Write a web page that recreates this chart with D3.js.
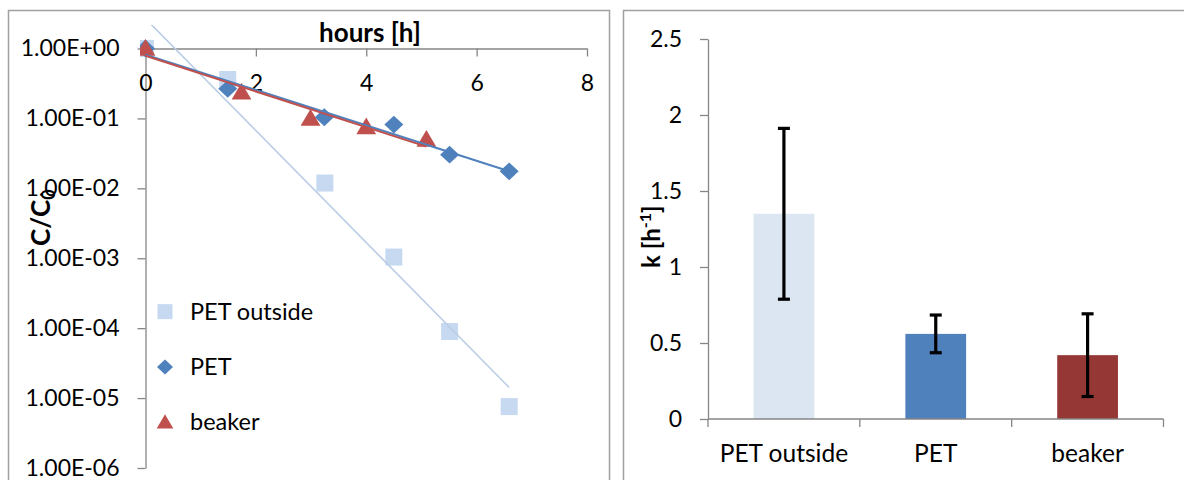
<!DOCTYPE html>
<html><head><meta charset="utf-8">
<script src="https://cdn.jsdelivr.net/npm/d3@7"></script>
<style>
body{margin:0;background:#fff}
svg{display:block;font-family:Lato,"Open Sans",sans-serif}
</style>
</head><body>
<svg id="c" width="1184" height="480"></svg>
<script>
// Decay of C/C0 over time (hours), three setups
const petOutsideHours = [0, 1.49, 3.25, 4.5, 5.51, 6.59];
const petOutsideConc  = [1.0, 0.36, 0.0119, 0.00104, 8.95e-5, 7.55e-6];
const petHours        = [0, 1.49, 3.24, 4.5, 5.51, 6.59];
const petConc         = [1.0, 0.265, 0.104, 0.0816, 0.0303, 0.0175];
const beakerHours     = [0, 1.74, 2.99, 4.0, 5.09];
const beakerConc      = [1.0, 0.237, 0.10, 0.0756, 0.0498];
const hourTicks = [0, 2, 4, 6, 8];
const concTicks = [1, 1e-1, 1e-2, 1e-3, 1e-4, 1e-5, 1e-6];

// Rate constants k with error bars
const categories = ["PET outside", "PET", "beaker"];
const kValues = [1.35, 0.56, 0.42];
const kErrors = [0.562, 0.124, 0.272];
const kTicks = [0, 0.5, 1, 1.5, 2, 2.5];

const svg = d3.select("#c");
const AXIS = "#868686";
const FRAME = "#a0a0a0";

// chart frames
svg.append("rect").attr("x", 8.5).attr("y", 10.5).attr("width", 601).attr("height", 480)
  .attr("fill", "#fff").attr("stroke", FRAME).attr("stroke-width", 1.5);
svg.append("rect").attr("x", 623.5).attr("y", 10.5).attr("width", 600).attr("height", 480)
  .attr("fill", "#fff").attr("stroke", FRAME).attr("stroke-width", 1.5);

/* ---------- left: semi-log scatter ---------- */
const x = d3.scaleLinear().domain([0, 8]).range([145.5, 587]);
const y = d3.scaleLog().domain([1e-6, 1]).range([468, 48.5]);

const fmtE = d => {
  const e = Math.round(Math.log10(d));
  const m = d / Math.pow(10, e);
  return m.toFixed(2) + "E" + (e >= 0 ? "+" : "-") + String(Math.abs(e)).padStart(2, "0");
};

const yAxis = svg.append("g").attr("transform", `translate(${x(0)},0)`)
  .call(d3.axisLeft(y).tickValues(concTicks).tickFormat(fmtE).tickSize(8).tickSizeOuter(0).tickPadding(18));
const xAxis = svg.append("g").attr("transform", `translate(0,${y(1)})`)
  .call(d3.axisBottom(x).tickValues(hourTicks).tickSize(8).tickSizeOuter(0).tickPadding(18));
[yAxis, xAxis].forEach(g => {
  g.select(".domain").attr("stroke", AXIS).attr("stroke-width", 1.3);
  g.selectAll(".tick line").attr("stroke", AXIS).attr("stroke-width", 1.3);
  g.selectAll(".tick text").attr("fill", "#000").style("font-size", "23px").style("font-family", "Lato");
});

// axis titles
svg.append("text").attr("x", 370).attr("y", 42).attr("text-anchor", "middle")
  .style("font-size", "26px").style("font-weight", "bold").text("hours [h]");
const cLab = svg.append("text").attr("transform", "translate(50,246) rotate(-90)")
  .style("font-size", "26px").style("font-weight", "bold");
cLab.append("tspan").text("C/C");
cLab.append("tspan").attr("dy", 5).style("font-size", "18px").text("0");

const series = [
  { name: "PET outside", hours: petOutsideHours, conc: petOutsideConc, marker: "square", fill: "#c6d9f1", line: "#b9cde5", lw: 1.6 },
  { name: "PET", hours: petHours, conc: petConc, marker: "diamond", fill: "#4f81bd", line: "#4f81bd", lw: 2 },
  { name: "beaker", hours: beakerHours, conc: beakerConc, marker: "triangle", fill: "#c0504d", line: "#c0504d", lw: 2 }
];

const shape = (type, s) => {
  if (type === "square") return `M${-s/2},${-s/2}h${s}v${s}h${-s}Z`;
  if (type === "diamond") return `M0,${-s*0.47}L${s/2},0L0,${s*0.47}L${-s/2},0Z`;
  return `M0,${-s*0.5}L${s*0.52},${s*0.38}L${-s*0.52},${s*0.38}Z`;
};

svg.append("clipPath").attr("id", "plotClip").append("rect")
  .attr("x", 140).attr("y", 25).attr("width", 465).attr("height", 450);
const plot = svg.append("g").attr("clip-path", "url(#plotClip)");

// markers
series.forEach(s => {
  plot.append("g").selectAll("path").data(s.hours.map((h, i) => [h, s.conc[i]])).join("path")
    .attr("transform", d => `translate(${x(d[0])},${y(d[1])})`)
    .attr("d", shape(s.marker, s.marker === "square" ? 17 : 19))
    .attr("fill", s.fill);
});

// exponential trendlines (least squares on log10 C)
series.forEach(s => {
  const L = s.conc.map(Math.log10);
  const mt = d3.mean(s.hours), mL = d3.mean(L);
  const slope = d3.sum(s.hours, (t, i) => (t - mt) * (L[i] - mL)) / d3.sum(s.hours, t => (t - mt) ** 2);
  const icpt = mL - slope * mt;
  const t1 = d3.max(s.hours);
  const pts = [[0, Math.pow(10, icpt)], [t1, Math.pow(10, icpt + slope * t1)]];
  plot.append("path").datum(pts)
    .attr("d", d3.line().x(d => x(d[0])).y(d => y(d[1])))
    .attr("fill", "none").attr("stroke", s.line).attr("stroke-width", s.lw);
});

// legend
const legendY = d3.scaleBand().domain(series.map(s => s.name)).range([284, 450]);
const lg = svg.append("g").selectAll("g").data(series).join("g")
  .attr("transform", s => `translate(165,${legendY(s.name) + legendY.bandwidth() / 2})`);
lg.append("path").attr("d", s => shape(s.marker, s.marker === "square" ? 15 : 16)).attr("fill", s => s.fill);
lg.append("text").attr("x", 25).attr("y", 8).style("font-size", "23.5px").text(s => s.name);

/* ---------- right: bar chart of k ---------- */
const xb = d3.scaleBand().domain(categories).range([708, 1163.5]);
const yb = d3.scaleLinear().domain([0, 2.5]).range([419, 39]);
const barColors = ["#dce6f2", "#4f81bd", "#953735"];
const bw = xb.bandwidth() / 2.5;

const yAxB = svg.append("g").attr("transform", `translate(${xb.range()[0]},0)`)
  .call(d3.axisLeft(yb).tickValues(kTicks).tickFormat(d3.format("")).tickSize(8).tickSizeOuter(0).tickPadding(18));
yAxB.select(".domain").attr("stroke", AXIS).attr("stroke-width", 1.3);
yAxB.selectAll(".tick line").attr("stroke", AXIS).attr("stroke-width", 1.3);
yAxB.selectAll(".tick text").attr("fill", "#000").style("font-size", "23px").style("font-family", "Lato");

const bars = svg.append("g").selectAll("g").data(categories).join("g");
bars.append("rect")
  .attr("x", (c) => xb(c) + (xb.bandwidth() - bw) / 2)
  .attr("width", bw)
  .attr("y", (c, i) => yb(kValues[i]))
  .attr("height", (c, i) => yb(0) - yb(kValues[i]))
  .attr("fill", (c, i) => barColors[i]);

// category axis
const xAxB = svg.append("g").attr("transform", `translate(0,${yb(0)})`);
xAxB.append("line").attr("x1", xb.range()[0]).attr("x2", xb.range()[1])
  .attr("stroke", AXIS).attr("stroke-width", 1.3);
xAxB.selectAll("line.tk").data(categories.map(c => xb(c)).concat([xb.range()[1]])).join("line")
  .attr("class", "tk").attr("x1", d => d).attr("x2", d => d).attr("y1", 0).attr("y2", 8)
  .attr("stroke", AXIS).attr("stroke-width", 1.3);
xAxB.selectAll("text").data(categories).join("text")
  .attr("x", c => xb(c) + xb.bandwidth() / 2).attr("y", 43).attr("text-anchor", "middle")
  .style("font-size", "24.5px").text(c => c);

// error bars
const eb = svg.append("g").attr("stroke", "#000").attr("stroke-width", 3.2).attr("fill", "none");
categories.forEach((c, i) => {
  const cx = xb(c) + xb.bandwidth() / 2;
  const top = yb(kValues[i] + kErrors[i]), bot = yb(kValues[i] - kErrors[i]);
  eb.append("line").attr("x1", cx).attr("x2", cx).attr("y1", top).attr("y2", bot);
  eb.append("line").attr("x1", cx - 6).attr("x2", cx + 6).attr("y1", top).attr("y2", top);
  eb.append("line").attr("x1", cx - 6).attr("x2", cx + 6).attr("y1", bot).attr("y2", bot);
});

// k axis title
const kLab = svg.append("text").attr("transform", "translate(660,268) rotate(-90)")
  .style("font-size", "24px").style("font-weight", "bold");
kLab.append("tspan").text("k [h");
kLab.append("tspan").attr("dy", -9).style("font-size", "16px").text("-1");
kLab.append("tspan").attr("dy", 9).text("]");
</script>
</body></html>
